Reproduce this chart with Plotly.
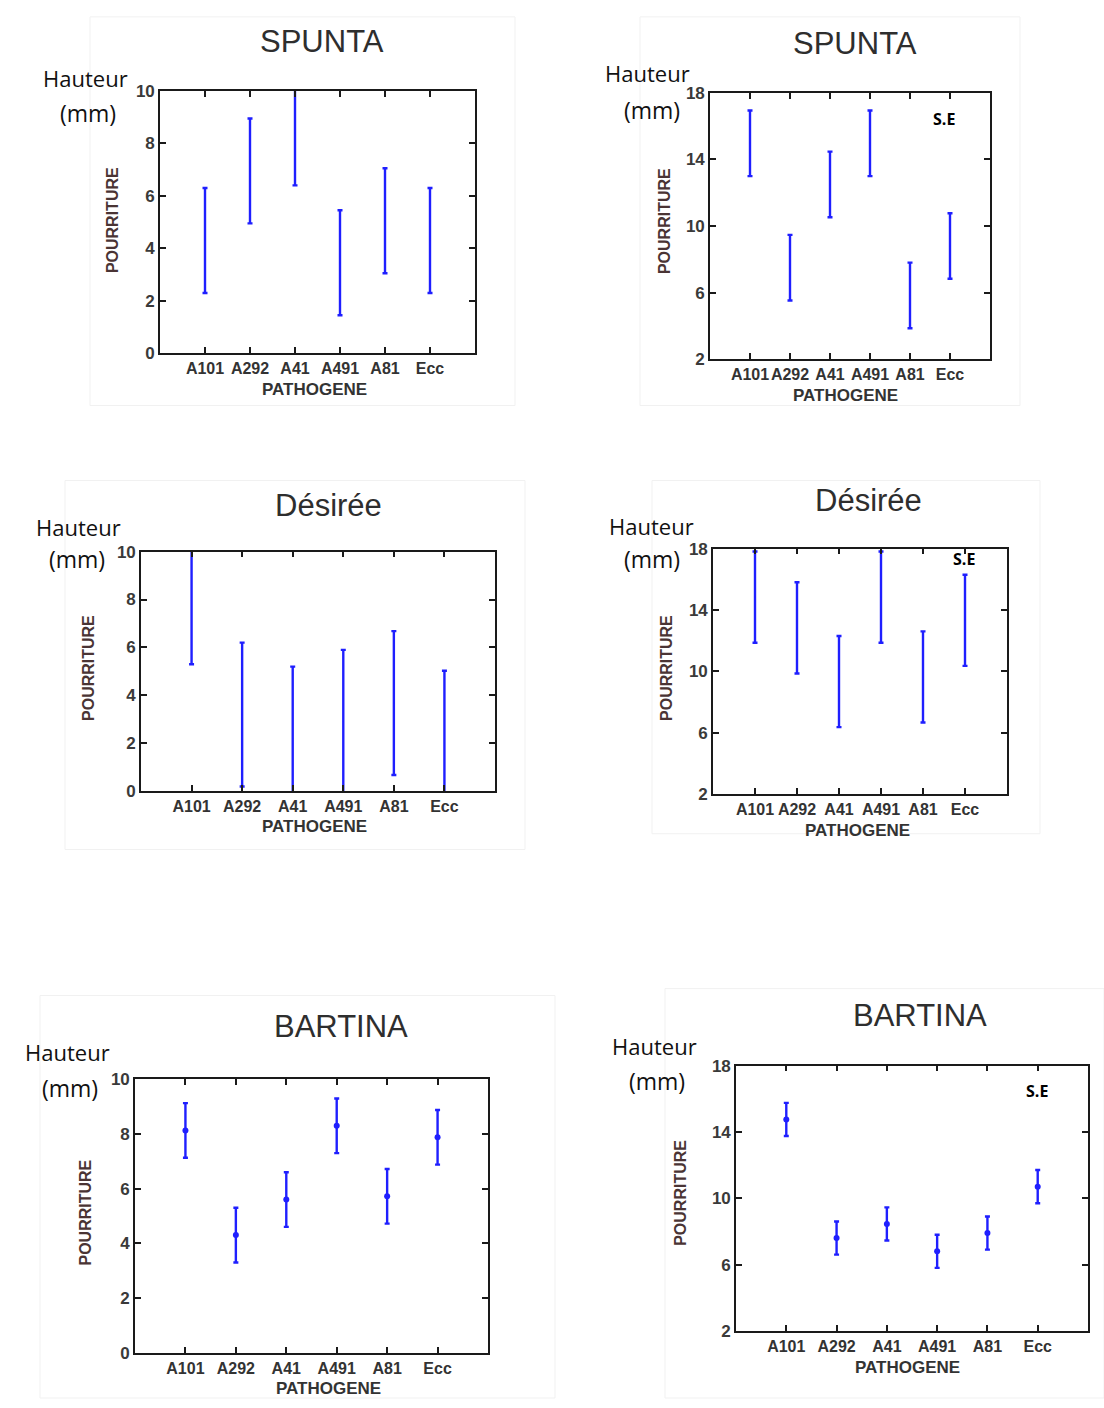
import plotly.graph_objects as go

# Pathogen strains on the x axis
categories = ["A101", "A292", "A41", "A491", "A81", "Ecc"]

# Rot height (mm): means and error half-widths per variety
spunta_mean = [4.3, 6.95, 8.4, 3.45, 5.05, 4.3]
spunta_err = [2.0, 2.0, 2.0, 2.0, 2.0, 2.0]
spunta_se_mean = [14.97, 7.5, 12.5, 14.97, 5.83, 8.8]
spunta_se_err = [1.97, 1.97, 1.97, 1.97, 1.97, 1.97]

desiree_mean = [8.3, 3.2, 2.2, 2.9, 3.68, 2.03]
desiree_err = [3.0, 3.0, 3.0, 3.0, 3.0, 3.0]
desiree_se_mean = [14.84, 12.84, 9.34, 14.84, 9.64, 13.33]
desiree_se_err = [2.97, 2.97, 2.97, 2.97, 2.97, 2.97]

bartina_mean = [8.13, 4.3, 5.6, 8.3, 5.72, 7.88]
bartina_err = [1.0, 1.0, 1.0, 1.0, 1.0, 1.0]
bartina_se_mean = [14.75, 7.6, 8.45, 6.8, 7.9, 10.7]
bartina_se_err = [1.0, 1.0, 1.0, 1.0, 1.0, 1.0]

left_ticks = [0, 2, 4, 6, 8, 10]
right_ticks = [2, 6, 10, 14, 18]

W, H = 1104, 1408
BLUE = "#1f1fff"
INK = "#333333"
TITLE_FONT = "Liberation Sans, Arial, sans-serif"
NOTE_FONT = "Open Sans, sans-serif"


def px(x):
    return x / W


def py(y):
    return 1 - y / H


# per panel: means, errors, y range/ticks, mean marker, plot box (px) and text anchors (px)
panels = [
    dict(title="SPUNTA", mean=spunta_mean, err=spunta_err, yr=[0, 10], yt=left_ticks,
         dot=False, box=(160, 475, 83, 349), title_xy=(322, 33),
         h_xy=(85, 70), mm_xy=(88, 105), xt_xy=(314, 386), yt_xy=(112, 214), se=None),
    dict(title="SPUNTA", mean=spunta_se_mean, err=spunta_se_err, yr=[2, 18], yt=right_ticks,
         dot=False, box=(710, 990, 85, 355), title_xy=(855, 35),
         h_xy=(647, 65), mm_xy=(652, 102), xt_xy=(845, 392), yt_xy=(664, 215), se=(944, 112)),
    dict(title="Désirée", mean=desiree_mean, err=desiree_err, yr=[0, 10], yt=left_ticks,
         dot=False, box=(141, 495, 550, 793), title_xy=(328, 503),
         h_xy=(78, 525), mm_xy=(77, 558), xt_xy=(314, 829), yt_xy=(89, 668), se=None),
    dict(title="Désirée", mean=desiree_se_mean, err=desiree_se_err, yr=[2, 18], yt=right_ticks,
         dot=False, box=(713, 1007, 547, 796), title_xy=(868, 498),
         h_xy=(651, 524), mm_xy=(652, 558), xt_xy=(857, 833), yt_xy=(667, 668), se=(964, 558)),
    dict(title="BARTINA", mean=bartina_mean, err=bartina_err, yr=[0, 10], yt=left_ticks,
         dot=True, box=(135, 488, 1085, 1362), title_xy=(341, 1031),
         h_xy=(67, 1057), mm_xy=(70, 1094), xt_xy=(328, 1398), yt_xy=(86, 1220), se=None),
    dict(title="BARTINA", mean=bartina_se_mean, err=bartina_se_err, yr=[2, 18], yt=right_ticks,
         dot=True, box=(736, 1088, 1071, 1340), title_xy=(920, 1020),
         h_xy=(654, 1051), mm_xy=(657, 1087), xt_xy=(907, 1377), yt_xy=(681, 1200), se=(1037, 1097)),
]

# faint frames around each sub-figure
frames = [(90, 515, 8, 402), (640, 1020, 8, 402), (65, 525, 478, 852),
          (652, 1040, 478, 836), (40, 555, 1000, 1408), (665, 1104, 993, 1408)]

fig = go.Figure()
annotations = []
layout = {}

for i, p in enumerate(panels, start=1):
    sfx = "" if i == 1 else str(i)
    x0, x1, y0, y1 = p["box"]
    fig.add_trace(go.Scatter(
        x=list(range(1, len(categories) + 1)), y=p["mean"],
        mode="markers",
        marker=dict(color=BLUE, size=6 if p["dot"] else 1),
        error_y=dict(type="data", array=p["err"], symmetric=True,
                     color=BLUE, thickness=2.4, width=2.5),
        xaxis="x" + sfx, yaxis="y" + sfx, showlegend=False,
        hoverinfo="x+y",
    ))
    axis_common = dict(showline=True, linecolor="#1a1a1a", linewidth=1.6,
                       mirror="allticks", ticks="inside", ticklen=6,
                       tickcolor="#1a1a1a", tickwidth=1.6,
                       showgrid=False, zeroline=False, fixedrange=True)
    layout["xaxis" + sfx] = dict(
        axis_common, domain=[px(x0), px(x1)], anchor="y" + sfx,
        range=[0, 7], tickmode="array", tickvals=list(range(1, 7)),
        ticktext=categories, tickangle=0,
        tickfont=dict(family=TITLE_FONT, size=16, color=INK, weight="bold"),
    )
    layout["yaxis" + sfx] = dict(
        axis_common, domain=[py(y1), py(y0)], anchor="x" + sfx,
        range=p["yr"], tickmode="array", tickvals=p["yt"],
        tickfont=dict(family=TITLE_FONT, size=17, color="#3a3a3a", weight="bold"),
    )

    tx, ty = p["title_xy"]
    annotations.append(dict(text=p["title"], x=px(tx), y=py(ty), xref="paper", yref="paper",
                            showarrow=False, xanchor="center", yanchor="middle",
                            font=dict(family=TITLE_FONT, size=31, color="#2e2e2e")))
    hx, hy = p["h_xy"]
    annotations.append(dict(text="Hauteur", x=px(hx), y=py(hy), xref="paper", yref="paper",
                            showarrow=False, xanchor="center", yanchor="middle",
                            font=dict(family=NOTE_FONT, size=22, color="#111111")))
    mx, my = p["mm_xy"]
    annotations.append(dict(text="(mm)", x=px(mx), y=py(my), xref="paper", yref="paper",
                            showarrow=False, xanchor="center", yanchor="middle",
                            font=dict(family=NOTE_FONT, size=23, color="#111111")))
    ax_, ay_ = p["xt_xy"]
    annotations.append(dict(text="PATHOGENE", x=px(ax_), y=py(ay_), xref="paper", yref="paper",
                            showarrow=False, xanchor="center", yanchor="middle",
                            font=dict(family=TITLE_FONT, size=17, color=INK, weight="bold")))
    bx, by = p["yt_xy"]
    annotations.append(dict(text="POURRITURE", x=px(bx), y=py(by), xref="paper", yref="paper",
                            showarrow=False, xanchor="center", yanchor="middle", textangle=-90,
                            font=dict(family=TITLE_FONT, size=16, color="#4a3434", weight="bold")))
    if p["se"]:
        sx, sy = p["se"]
        annotations.append(dict(text="S.E", x=px(sx), y=py(sy), xref="paper", yref="paper",
                                showarrow=False, xanchor="center", yanchor="middle",
                                font=dict(family=NOTE_FONT, size=16, color="#000000",
                                          weight="bold")))

shapes = [dict(type="rect", xref="paper", yref="paper", x0=px(a), x1=px(b),
               y0=py(d), y1=py(c), line=dict(color="#f1f1f1", width=1), layer="below")
          for a, b, c, d in frames]

fig.update_layout(
    width=W, height=H,
    margin=dict(l=0, r=0, t=0, b=0),
    paper_bgcolor="white", plot_bgcolor="white",
    annotations=annotations, shapes=shapes,
    showlegend=False,
    **layout,
)

# page body without default margin so the figure fills the window exactly
fig.write_html("out.html", config={"displayModeBar": False},
               post_script="document.body.style.margin='0px';")
